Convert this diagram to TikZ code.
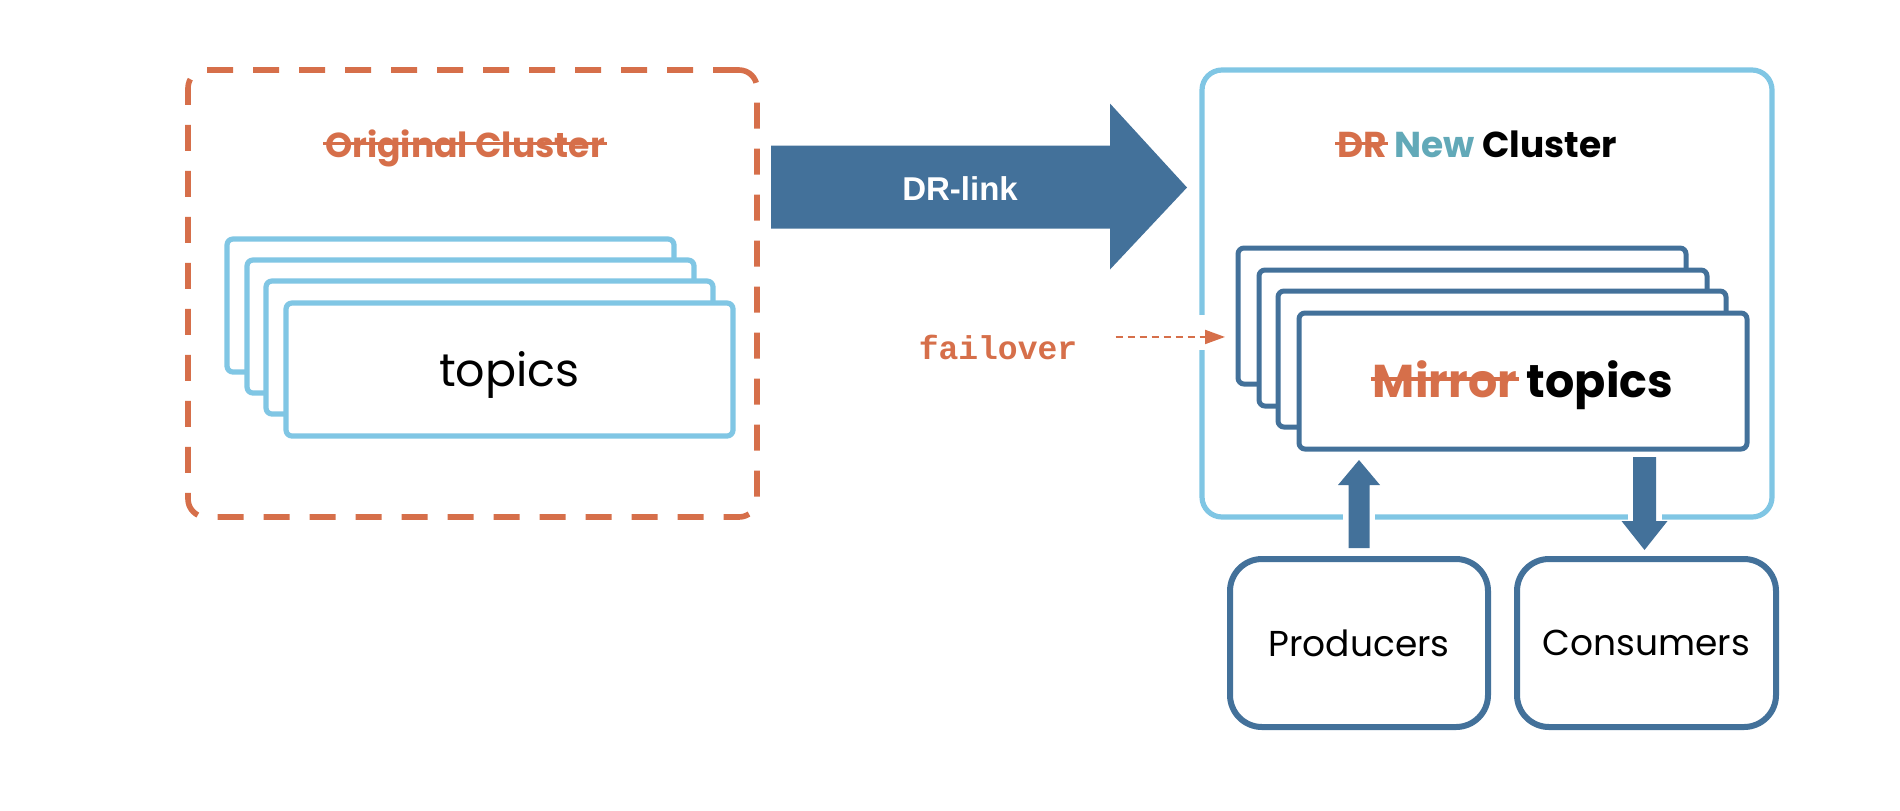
\documentclass[tikz,border=0pt]{standalone}
\usepackage{fontspec}
\setmainfont{Poppins}
\newfontfamily\drfont{Liberation Sans}
\newfontfamily\fomono{Liberation Mono}
\usetikzlibrary{arrows.meta,calc}
\definecolor{dorange}{HTML}{D66F4A}
\definecolor{lblue}{HTML}{80C6E4}
\definecolor{dblue}{HTML}{43719A}
\definecolor{nteal}{HTML}{62A9B8}
\newsavebox\strkbox
\newcommand{\strk}[1]{\sbox\strkbox{#1}\rlap{\kern-0.05em\rule[0.34em]{\dimexpr\wd\strkbox+0.1em\relax}{0.09em}}\usebox\strkbox}
\begin{document}
\begin{tikzpicture}[x=0.5pt,y=-0.5pt,
  lcard/.style={draw=lblue,line width=2.6pt,fill=white,rounded corners=3pt,anchor=north west,minimum width=223.5pt,minimum height=66.5pt,inner sep=0pt,outer sep=0pt},
  dcard/.style={draw=dblue,line width=2.5pt,fill=white,rounded corners=3pt,anchor=north west,minimum width=224pt,minimum height=68pt,inner sep=0pt,outer sep=0pt},
  clientbox/.style={draw=dblue,line width=3pt,fill=white,rounded corners=16pt,anchor=north west,minimum height=84pt,inner sep=0pt,outer sep=0pt,font=\fontsize{18}{22}\selectfont},
  title/.style={anchor=base,inner sep=0pt,font=\fontsize{17.5}{21}\selectfont\bfseries},
  blockarrow/.style={fill=dblue}]
\useasboundingbox (0,0) rectangle (1900,810);

% clusters
\node[draw=dorange,line width=2.8pt,dash pattern=on 13pt off 10pt,rounded corners=9pt,
      minimum width=284.5pt,minimum height=223.5pt,anchor=north west,inner sep=0pt,outer sep=0pt] (oc) at (188,70) {};
\node[draw=lblue,line width=2.6pt,rounded corners=10pt,
      minimum width=285pt,minimum height=223.5pt,anchor=north west,inner sep=0pt,outer sep=0pt] (nc) at (1202,70) {};

% titles
\node[title,text=dorange,font=\fontsize{17.3}{21}\selectfont\bfseries] (octitle) at (465,157) {\strk{Original Cluster}};
\node[title,font=\fontsize{18}{21}\selectfont\bfseries] (nctitle) at (1477,157) {\textcolor{dorange}{\strk{DR}} \textcolor{nteal}{New} Cluster};

% left topic stack
\node[lcard] (l1) at (227,239) {};
\node[lcard] (l2) at (247,260) {};
\node[lcard] (l3) at (266,281) {};
\node[lcard] (l4) at (286,303) {};
\node[anchor=base,inner sep=0pt,font=\fontsize{23}{27}\selectfont] (ltxt) at ($(l4.center)+(0,17)$) {topics};

% right topic stack
\node[dcard] (r1) at (1238,248) {};
\node[dcard] (r2) at (1259,270) {};
\node[dcard] (r3) at (1278,291) {};
\node[dcard] (r4) at (1299,313) {};
\node[anchor=base,inner sep=0pt,font=\fontsize{23}{27}\selectfont\bfseries] (rtxt) at ($(r4.center)+(0,16)$) {\textcolor{dorange}{\strk{Mirror}} topics};

% clients
\node[clientbox,minimum width=129pt] (prod) at (1230,559) {Producers};
\node[clientbox,minimum width=129.5pt] (cons) at (1517,559) {Consumers};

% DR-link arrow
\coordinate (dl0) at ($(oc.east)+(14,-106)$);
\coordinate (dl1) at ($(nc.west)+(-15,-106)$);
\fill[blockarrow] ($(dl0)+(0,-42)$) -- ($(dl1)+(-77,-42)$) -- ($(dl1)+(-77,-84)$) -- (dl1)
  -- ($(dl1)+(-77,82)$) -- ($(dl1)+(-77,41)$) -- ($(dl0)+(0,41)$) -- cycle;
\node[anchor=base,inner sep=0pt,text=white,font=\drfont\bfseries\fontsize{16.5}{19}\selectfont] (dltxt) at (960,200) {DR-link};

% failover
\node[anchor=base,inner sep=0pt,text=dorange,font=\fomono\bfseries\fontsize{16.5}{19}\selectfont] (fo) at (998,359) {failover};
\coordinate (fa0) at ($(fo.east)+(38,-10)$);
\coordinate (fa1) at ($(r1.west |- fa0)+(-13,0)$);
\fill[white] ($(nc.west |- fa0)+(-7,-22)$) rectangle ($(nc.west |- fa0)+(7,13)$);
\draw[dorange,line width=1pt,dash pattern=on 3.5pt off 2.5pt,-{Triangle[length=10pt,width=7pt]}] (fa0) -- (fa1);

% producer arrow (up)
\coordinate (ua0) at ($(prod.north)+(0,-11)$);
\coordinate (ua1) at ($(prod.north |- r4.south)+(0,11)$);
\fill[white] ($(ua0 |- nc.south)+(-16,-9)$) rectangle ($(ua0 |- nc.south)+(16,9)$);
\fill[blockarrow] ($(ua0)+(-10.5,0)$) -- ($(ua1)+(-10.5,25)$) -- ($(ua1)+(-21,25)$) -- (ua1)
  -- ($(ua1)+(21,25)$) -- ($(ua1)+(10.5,25)$) -- ($(ua0)+(10.5,0)$) -- cycle;

% consumer arrow (down)
\coordinate (da0) at ($(cons.north |- r4.south)+(-2,8)$);
\coordinate (da1) at ($(cons.north)+(-2,-9)$);
\fill[white] ($(da0 |- nc.south)+(-17,-9)$) rectangle ($(da0 |- nc.south)+(17,9)$);
\fill[blockarrow] ($(da0)+(-11.5,0)$) -- ($(da1)+(-11.5,-29)$) -- ($(da1)+(-23,-29)$) -- (da1)
  -- ($(da1)+(23,-29)$) -- ($(da1)+(11.5,-29)$) -- ($(da0)+(11.5,0)$) -- cycle;
\end{tikzpicture}
\end{document}
